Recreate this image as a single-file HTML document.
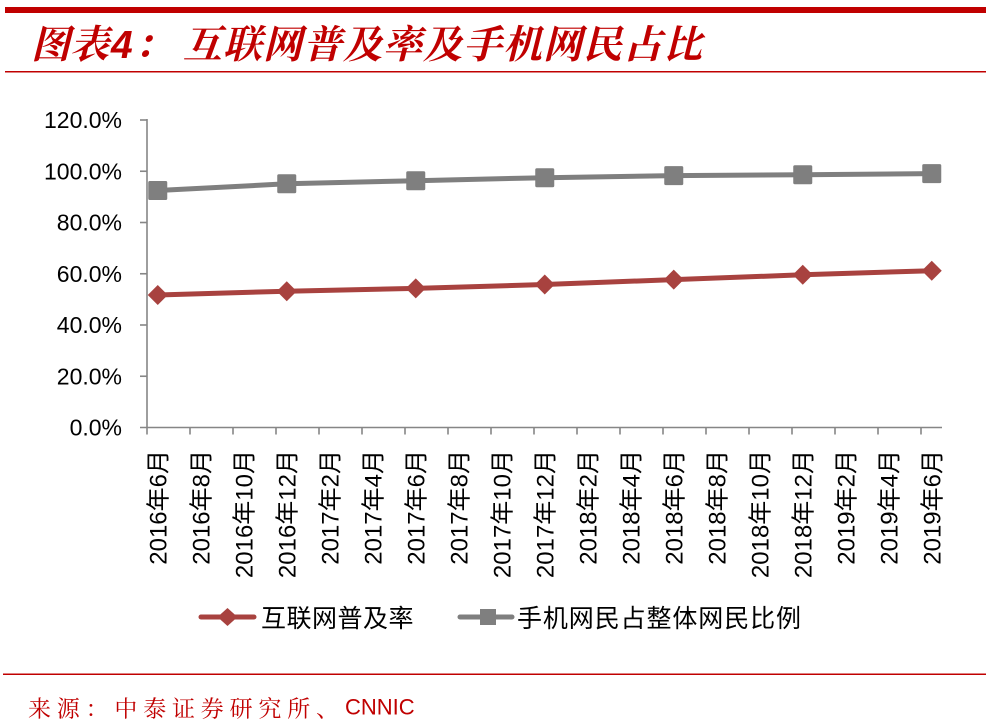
<!DOCTYPE html>
<html><head><meta charset="utf-8">
<style>
html,body{margin:0;padding:0;background:#fff;}
body{width:986px;height:725px;overflow:hidden;position:relative;}
svg{position:absolute;left:0;top:0;}
</style></head>
<body>
<svg width="986" height="725" viewBox="0 0 986 725" xmlns="http://www.w3.org/2000/svg">
  <!-- header -->
  <rect x="5" y="7" width="981" height="6" fill="#C00000"/>
  <text x="31" y="58" font-family="'Noto Serif CJK SC','Liberation Serif',serif" font-size="39" font-weight="bold" font-style="italic" fill="#C00000">图表</text>
  <text x="111" y="58" font-family="'Liberation Sans',sans-serif" font-size="39" font-weight="bold" font-style="italic" fill="#C00000">4</text>
  <text x="134" y="58" font-family="'Noto Serif CJK SC',serif" font-size="39" font-weight="bold" font-style="italic" fill="#C00000">：</text>
  <text x="183" y="58" font-family="'Noto Serif CJK SC','Liberation Serif',serif" font-size="39" font-weight="bold" font-style="italic" fill="#C00000" letter-spacing="1">互联网普及率及手机网民占比</text>
  <rect x="5" y="71" width="981" height="1.5" fill="#C00000"/>

  <!-- y axis labels -->
  <g font-family="'Liberation Sans',sans-serif" font-size="23" fill="#000" text-anchor="end" dominant-baseline="central">
    <text x="122" y="120">120.0%</text>
    <text x="122" y="171.25">100.0%</text>
    <text x="122" y="222.5">80.0%</text>
    <text x="122" y="273.75">60.0%</text>
    <text x="122" y="325">40.0%</text>
    <text x="122" y="376.25">20.0%</text>
    <text x="122" y="427.5">0.0%</text>
  </g>

  <!-- axes -->
  <g stroke="#868686" stroke-width="1.6" fill="none">
    <line x1="147" y1="119" x2="147" y2="428"/>
    <line x1="140" y1="120" x2="147" y2="120"/>
    <line x1="140" y1="171.25" x2="147" y2="171.25"/>
    <line x1="140" y1="222.5" x2="147" y2="222.5"/>
    <line x1="140" y1="273.75" x2="147" y2="273.75"/>
    <line x1="140" y1="325" x2="147" y2="325"/>
    <line x1="140" y1="376.25" x2="147" y2="376.25"/>
    <line x1="140" y1="427.5" x2="942" y2="427.5"/>
    <path d="M147 427.5v7 M190 427.5v7 M233 427.5v7 M276 427.5v7 M319 427.5v7 M362 427.5v7 M405 427.5v7 M448 427.5v7 M491 427.5v7 M534 427.5v7 M577 427.5v7 M620 427.5v7 M663 427.5v7 M706 427.5v7 M749 427.5v7 M792 427.5v7 M835 427.5v7 M878 427.5v7 M921 427.5v7"/>
  </g>

  <!-- x labels -->
  <g font-family="'Liberation Sans','Noto Sans CJK SC',sans-serif" font-size="24" fill="#000" text-anchor="end" dominant-baseline="central">
    <text transform="translate(159,450) rotate(-90)">2016年6月</text>
    <text transform="translate(202,450) rotate(-90)">2016年8月</text>
    <text transform="translate(245,450) rotate(-90)">2016年10月</text>
    <text transform="translate(288,450) rotate(-90)">2016年12月</text>
    <text transform="translate(331,450) rotate(-90)">2017年2月</text>
    <text transform="translate(374,450) rotate(-90)">2017年4月</text>
    <text transform="translate(417,450) rotate(-90)">2017年6月</text>
    <text transform="translate(460,450) rotate(-90)">2017年8月</text>
    <text transform="translate(503,450) rotate(-90)">2017年10月</text>
    <text transform="translate(546,450) rotate(-90)">2017年12月</text>
    <text transform="translate(589,450) rotate(-90)">2018年2月</text>
    <text transform="translate(632,450) rotate(-90)">2018年4月</text>
    <text transform="translate(675,450) rotate(-90)">2018年6月</text>
    <text transform="translate(718,450) rotate(-90)">2018年8月</text>
    <text transform="translate(761,450) rotate(-90)">2018年10月</text>
    <text transform="translate(804,450) rotate(-90)">2018年12月</text>
    <text transform="translate(847,450) rotate(-90)">2019年2月</text>
    <text transform="translate(890,450) rotate(-90)">2019年4月</text>
    <text transform="translate(933,450) rotate(-90)">2019年6月</text>
  </g>

  <!-- gray series -->
  <polyline fill="none" stroke="#7F7F7F" stroke-width="5" stroke-linejoin="round"
    points="157.75,190.5 286.75,183.8 415.75,180.7 544.75,177.7 673.75,175.6 802.75,174.8 931.75,173.6"/>
  <g fill="#7F7F7F">
    <rect x="148.25" y="181" width="19" height="19" rx="1.5"/>
    <rect x="277.25" y="174.3" width="19" height="19" rx="1.5"/>
    <rect x="406.25" y="171.2" width="19" height="19" rx="1.5"/>
    <rect x="535.25" y="168.2" width="19" height="19" rx="1.5"/>
    <rect x="664.25" y="166.1" width="19" height="19" rx="1.5"/>
    <rect x="793.25" y="165.3" width="19" height="19" rx="1.5"/>
    <rect x="922.25" y="164.1" width="19" height="19" rx="1.5"/>
  </g>

  <!-- red series -->
  <polyline fill="none" stroke="#A8423F" stroke-width="5" stroke-linejoin="round"
    points="157.75,295 286.75,291.2 415.75,288.4 544.75,284.5 673.75,279.6 802.75,274.8 931.75,270.7"/>
  <g fill="#A8423F">
    <path d="M157.75 285 l10 10 l-10 10 l-10 -10z"/>
    <path d="M286.75 281.2 l10 10 l-10 10 l-10 -10z"/>
    <path d="M415.75 278.4 l10 10 l-10 10 l-10 -10z"/>
    <path d="M544.75 274.5 l10 10 l-10 10 l-10 -10z"/>
    <path d="M673.75 269.6 l10 10 l-10 10 l-10 -10z"/>
    <path d="M802.75 264.8 l10 10 l-10 10 l-10 -10z"/>
    <path d="M931.75 260.7 l10 10 l-10 10 l-10 -10z"/>
  </g>

  <!-- legend -->
  <line x1="201" y1="617" x2="254" y2="617" stroke="#A8423F" stroke-width="5" stroke-linecap="round"/>
  <path d="M227.5 608 l10 9 l-10 9 l-10 -9z" fill="#A8423F"/>
  <text x="261" y="617" dominant-baseline="central" font-family="'Noto Sans CJK SC',sans-serif" font-size="25" letter-spacing="0.5" fill="#000">互联网普及率</text>
  <line x1="460" y1="617" x2="512" y2="617" stroke="#7F7F7F" stroke-width="5" stroke-linecap="round"/>
  <rect x="480" y="609" width="16" height="16" fill="#7F7F7F"/>
  <text x="517" y="617" dominant-baseline="central" font-family="'Noto Sans CJK SC',sans-serif" font-size="25" letter-spacing="0.9" fill="#000">手机网民占整体网民比例</text>

  <!-- footer -->
  <rect x="3" y="673.5" width="983" height="1.5" fill="#C00000"/>
  <text x="28" y="707" dominant-baseline="central" font-family="'Noto Serif CJK SC',serif" font-size="23" letter-spacing="5.8" fill="#C00000">来源：中泰证券研究所、</text>
  <text x="345" y="707" dominant-baseline="central" font-family="'Liberation Sans',sans-serif" font-size="22" fill="#C00000">CNNIC</text>
</svg>
</body></html>
